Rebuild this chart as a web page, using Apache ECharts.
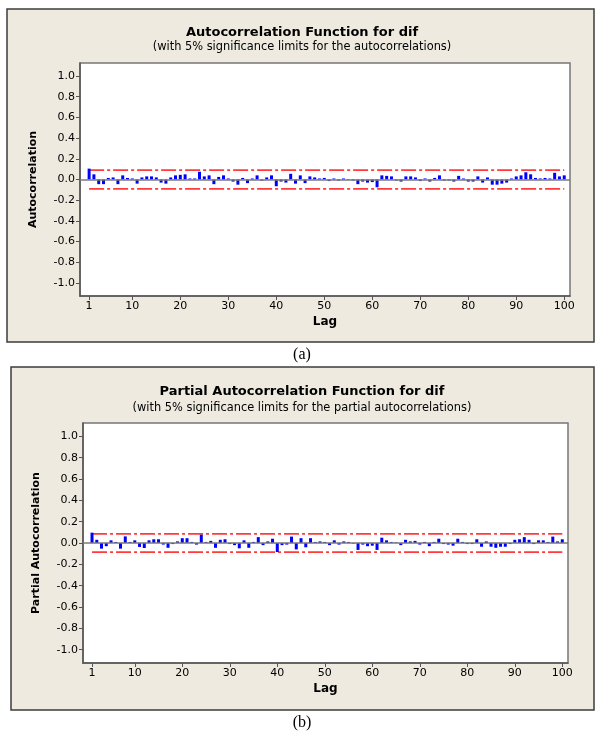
<!DOCTYPE html>
<html><head><meta charset="utf-8">
<script src="https://cdn.jsdelivr.net/npm/echarts@6/dist/echarts.min.js"></script>
<style>html,body{margin:0;padding:0;background:#fff}#c{width:595px;height:735px}</style>
</head><body><div id="c"></div>
<script>
// ---- data ----
const lags = Array.from({length: 100}, (_, i) => i + 1);
const xTickLabels = [1, 10, 20, 30, 40, 50, 60, 70, 80, 90, 100];
const yTickLabels = [-1.0, -0.8, -0.6, -0.4, -0.2, 0.0, 0.2, 0.4, 0.6, 0.8, 1.0];

const acfValues = [
  0.105, 0.05, -0.045, -0.045, 0.015, 0.02, -0.045, 0.04, 0.015, 0.01,
  -0.04, 0.02, 0.03, 0.03, 0.02, -0.03, -0.04, 0.02, 0.04, 0.045,
  0.05, 0.01, 0.01, 0.075, 0.03, 0.04, -0.045, 0.025, 0.04, 0.01,
  -0.02, -0.05, 0.015, -0.035, 0.01, 0.04, -0.01, 0.02, 0.04, -0.065,
  -0.02, -0.03, 0.055, -0.04, 0.04, -0.035, 0.03, 0.02, 0.01, 0.015,
  -0.015, 0.01, -0.01, 0.01, 0.005, -0.01, -0.045, -0.02, -0.03, -0.025,
  -0.075, 0.04, 0.035, 0.03, -0.01, -0.02, 0.03, 0.03, 0.02, -0.015,
  0.01, -0.02, 0.015, 0.04, -0.01, -0.01, -0.02, 0.035, 0.01, -0.02,
  -0.02, 0.03, -0.03, 0.02, -0.05, -0.05, -0.04, -0.03, 0.01, 0.03,
  0.04, 0.07, 0.05, 0.015, 0.01, 0.015, 0.01, 0.065, 0.03, 0.04
];
const pacfValues = [
  0.097, 0.03, -0.053, -0.03, 0.025, 0.01, -0.053, 0.062, 0.01, 0.025,
  -0.037, -0.047, 0.025, 0.035, 0.035, -0.015, -0.045, -0.01, 0.015, 0.045,
  0.045, 0.01, -0.015, 0.078, 0.01, 0.02, -0.045, 0.03, 0.035, -0.01,
  -0.02, -0.05, 0.025, -0.045, 0.01, 0.055, -0.02, 0.015, 0.04, -0.085,
  -0.02, -0.015, 0.06, -0.06, 0.045, -0.04, 0.045, 0.01, 0.015, 0.01,
  -0.02, 0.025, -0.015, 0.015, 0.01, -0.005, -0.065, -0.015, -0.03, -0.025,
  -0.065, 0.05, 0.025, 0.01, 0.005, -0.02, 0.03, 0.015, 0.02, -0.015,
  0.01, -0.03, 0.01, 0.04, -0.01, -0.015, -0.025, 0.04, 0.01, -0.01,
  -0.01, 0.035, -0.035, 0.015, -0.035, -0.045, -0.035, -0.035, -0.01, 0.03,
  0.035, 0.055, 0.03, -0.01, 0.025, 0.025, 0.01, 0.06, 0.015, 0.035
];
const acfLimit = 0.09;
const pacfLimit = 0.085;

const titles = ['Autocorrelation Function for dif', 'Partial Autocorrelation Function for dif'];
const subtitles = ['(with 5% significance limits for the autocorrelations)',
                   '(with 5% significance limits for the partial autocorrelations)'];
const yNames = ['Autocorrelation', 'Partial Autocorrelation'];
const panelLabels = ['(a)', '(b)'];

// ---- chart ----
const FONT = '"DejaVu Sans", Verdana, sans-serif';
const chart = echarts.init(document.getElementById('c'), null, {renderer: 'canvas'});

function xAxis(gi) {
  return {
    type: 'value', gridIndex: gi, min: -0.9, max: 101.2,
    axisLine: {show: true, onZero: false, lineStyle: {color: '#555', width: 1.5}},
    axisTick: {show: true, customValues: xTickLabels, length: 4, lineStyle: {color: '#555'}},
    axisLabel: {customValues: xTickLabels, fontSize: 11, color: '#000', fontFamily: FONT, margin: 5},
    splitLine: {show: false},
    name: 'Lag', nameLocation: 'middle', nameGap: 20,
    nameTextStyle: {fontWeight: 'bold', fontSize: 12, color: '#000', fontFamily: FONT}
  };
}
function yAxis(gi) {
  return {
    type: 'value', gridIndex: gi, min: -1.125, max: 1.125,
    axisLine: {show: true, onZero: false, lineStyle: {color: '#555', width: 1.5}},
    axisTick: {show: true, customValues: yTickLabels, length: 4, lineStyle: {color: '#555'}},
    axisLabel: {customValues: yTickLabels, formatter: v => v.toFixed(1), fontSize: 11,
                color: '#000', fontFamily: FONT, margin: 5},
    splitLine: {show: false},
    name: yNames[gi], nameLocation: 'middle', nameGap: 41,
    nameTextStyle: {fontWeight: 'bold', fontSize: 11, color: '#000', fontFamily: FONT}
  };
}
function seriesFor(gi, vals, lim) {
  const limStyle = {color: '#ff3b3b', width: 1.8, type: [15, 3, 3, 3]};
  return [
    {
      type: 'bar', xAxisIndex: gi, yAxisIndex: gi, barWidth: 3,
      itemStyle: {color: '#0000ff'},
      data: lags.map((l, i) => [l, vals[i]]),
      markLine: {silent: true, symbol: 'none', label: {show: false},
                 lineStyle: {color: '#7a7a7a', width: 1.5, type: 'solid'},
                 data: [{yAxis: 0}]},
      z: 3
    },
    {type: 'line', xAxisIndex: gi, yAxisIndex: gi, symbol: 'none', silent: true,
     lineStyle: limStyle, data: [[lags[0], lim], [lags[lags.length - 1], lim]], z: 2},
    {type: 'line', xAxisIndex: gi, yAxisIndex: gi, symbol: 'none', silent: true,
     lineStyle: limStyle, data: [[lags[0], -lim], [lags[lags.length - 1], -lim]], z: 2}
  ];
}

function text(x, y, str, font) {
  return {type: 'text', x: x, y: y, z: 10,
          style: {text: str, font: font, fill: '#000', align: 'center', verticalAlign: 'middle',
                  textAlign: 'center', textVerticalAlign: 'middle'}};
}

const option = {
  animation: false,
  backgroundColor: '#fff',
  grid: [
    {left: 80, top: 63, width: 490, height: 233, show: true, backgroundColor: '#fff',
     borderColor: '#777', borderWidth: 1.5},
    {left: 83, top: 423, width: 485, height: 240, show: true, backgroundColor: '#fff',
     borderColor: '#777', borderWidth: 1.5}
  ],
  xAxis: [xAxis(0), xAxis(1)],
  yAxis: [yAxis(0), yAxis(1)],
  series: [].concat(seriesFor(0, acfValues, acfLimit), seriesFor(1, pacfValues, pacfLimit)),
  graphic: [
    {type: 'rect', z: -100, shape: {x: 7, y: 9, width: 587, height: 333},
     style: {fill: '#eeeae0', stroke: '#3c3c3c', lineWidth: 1.5}},
    {type: 'rect', z: -100, shape: {x: 11, y: 367, width: 583, height: 343},
     style: {fill: '#eeeae0', stroke: '#3c3c3c', lineWidth: 1.5}},
    text(302, 33, titles[0], 'bold 13px ' + FONT),
    text(302, 47, subtitles[0], '11.4px ' + FONT),
    text(302, 392, titles[1], 'bold 13px ' + FONT),
    text(302, 408, subtitles[1], '11.4px ' + FONT),
    text(302, 355, panelLabels[0], '16px "Liberation Serif", "Times New Roman", serif'),
    text(302, 723, panelLabels[1], '16px "Liberation Serif", "Times New Roman", serif')
  ]
};
chart.setOption(option);
</script>
</body></html>
